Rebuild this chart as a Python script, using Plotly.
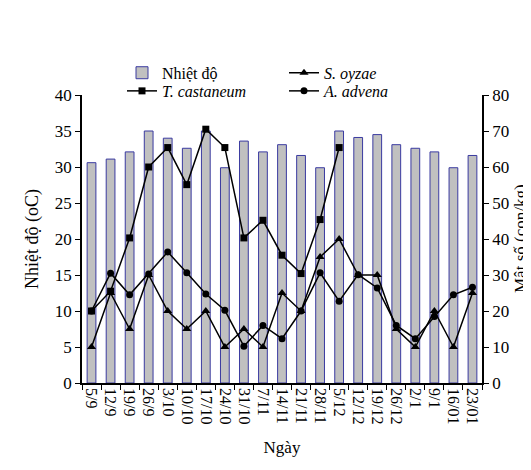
import plotly.graph_objects as go

dates = ["5/9", "12/9", "19/9", "26/9", "3/10", "10/10", "17/10", "24/10", "31/10",
         "7/11", "14/11", "21/11", "28/11", "5/12", "12/12", "19/12", "26/12",
         "2/1", "9/1", "16/01", "23/01"]
temperature = [30.6, 31.1, 32.1, 35.0, 34.0, 32.6, 35.0, 29.9, 33.6, 32.1, 33.1,
               31.6, 29.9, 35.0, 34.1, 34.5, 33.1, 32.6, 32.1, 29.9, 31.6]
s_oyzae = [10, 25, 15, 30, 20, 15, 20, 10, 15, 10, 25, 20, 35, 40, 30, 30, 15, 10, 20, 10, 25]
t_castaneum = [20, 25.5, 40.3, 60, 65.4, 55.1, 70.5, 65.4, 40.3, 45.2, 35.5, 30.4, 45.4, 65.4,
               None, None, None, None, None, None, None]
a_advena = [20, 30.5, 24.5, 30.3, 36.4, 30.6, 24.7, 20.2, 10.2, 16.0, 12.3, 20, 30.6, 22.7,
            30.1, 26.4, 16.0, 12.3, 18.5, 24.5, 26.6]

FONT = "Liberation Serif"

fig = go.Figure()
fig.add_trace(go.Bar(x=dates, y=temperature, name="Nhiệt độ", width=0.46,
                     marker=dict(color="#c0c0c0", line=dict(color="#3a3aa0", width=1)),
                     legend="legend"))
fig.add_trace(go.Scatter(x=dates, y=s_oyzae, name="<i>S. oyzae</i>", yaxis="y2",
                         mode="lines+markers", line=dict(color="black", width=1.5),
                         marker=dict(symbol="triangle-up", size=8, color="black"),
                         legend="legend"))
fig.add_trace(go.Scatter(x=dates, y=t_castaneum, name="<i>T. castaneum</i>", yaxis="y2",
                         mode="lines+markers", line=dict(color="black", width=1.5),
                         marker=dict(symbol="square", size=7, color="black"),
                         legend="legend2"))
fig.add_trace(go.Scatter(x=dates, y=a_advena, name="<i>A. advena</i>", yaxis="y2",
                         mode="lines+markers", line=dict(color="black", width=1.5),
                         marker=dict(symbol="circle", size=7, color="black"),
                         legend="legend2"))

legend_common = dict(orientation="h", entrywidth=117, entrywidthmode="pixels",
                     font=dict(family=FONT, size=16, color="black"),
                     bgcolor="rgba(0,0,0,0)", xanchor="left", yanchor="middle",
                     itemclick=False, tracegroupgap=0)

fig.update_layout(
    width=531, height=470,
    margin=dict(l=74, r=57, t=87, b=95),
    paper_bgcolor="white", plot_bgcolor="white",
    font=dict(family=FONT, size=16, color="black"),
    showlegend=True,
    legend=dict(x=0.1, y=1.077, **legend_common),
    legend2=dict(x=0.1, y=1.014, **legend_common),
    xaxis=dict(type="category", range=[-0.5, 20.5], tickmode="linear", tick0=0, dtick=1,
               showline=True, linecolor="black",
               linewidth=1.5, ticks="outside", tickson="boundaries", ticklen=5,
               tickcolor="black", tickangle=90, showgrid=False,
               tickfont=dict(family=FONT, size=16, color="black"),
               title=dict(text="Ngày", font=dict(family=FONT, size=17), standoff=18)),
    yaxis=dict(range=[0, 40], dtick=5, showline=True, linecolor="black", linewidth=1.5,
               ticks="outside", ticklen=5, tickcolor="black", showgrid=False, zeroline=False,
               tickfont=dict(family=FONT, size=17, color="black"),
               title=dict(text="Nhiệt độ (oC)", font=dict(family=FONT, size=18), standoff=12)),
    yaxis2=dict(range=[0, 80], dtick=10, overlaying="y", side="right", showline=True,
                linecolor="black", linewidth=1.5, ticks="outside", ticklen=5,
                tickcolor="black", showgrid=False, zeroline=False,
                tickfont=dict(family=FONT, size=17, color="black")),
)
fig.add_annotation(text="Mật số (con/kg)", textangle=-90, showarrow=False,
                   xref="paper", yref="paper", x=1.095, y=0.5,
                   xanchor="center", yanchor="middle",
                   font=dict(family=FONT, size=17, color="black"))

fig.write_html("out.html")
